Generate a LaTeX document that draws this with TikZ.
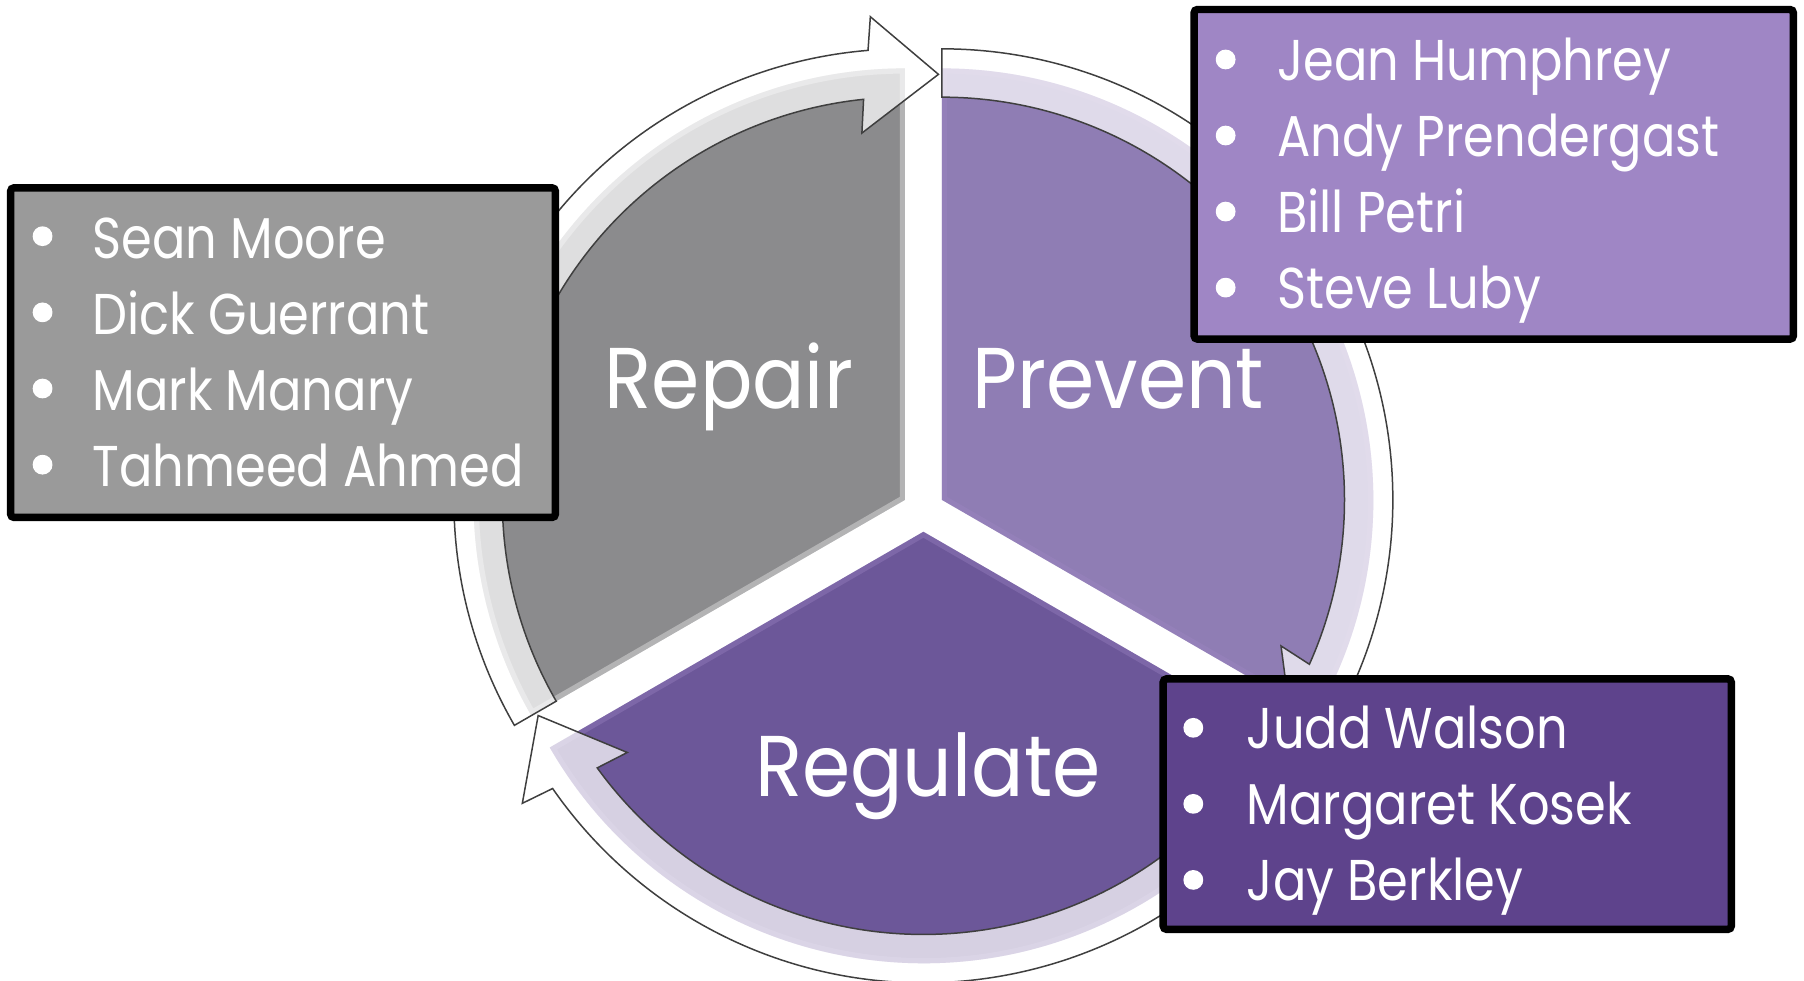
\documentclass[tikz,border=0pt]{standalone}
\usepackage{fontspec}
\newfontfamily\ff[FakeStretch=0.86]{Poppins}
\newfontfamily\ffb[FakeBold=4]{Poppins}
\newfontfamily\ffl[FakeStretch=0.9]{Poppins}
\definecolor{repairSec}{HTML}{8B8B8D}
\definecolor{repairBox}{HTML}{9A9A9A}
\definecolor{prevSec}{HTML}{8F7DB4}
\definecolor{prevBox}{HTML}{9F86C5}
\definecolor{regSec}{HTML}{6C5799}
\definecolor{regBox}{HTML}{5E438C}
\definecolor{bandLine}{HTML}{3F3F3F}
\tikzset{
  band/.style={fill=white, fill opacity=0.72, draw=bandLine, draw opacity=1, line width=1.3pt, line join=miter},
  listbox/.style={draw=black, line width=6.5pt, rounded corners=3pt, inner sep=0pt},
  nametxt/.style={anchor=base west, inner sep=0pt, text=white, font=\ff\fontsize{50}{50}\selectfont},
  bultxt/.style={anchor=base, inner sep=0pt, text=white, font=\ffb\fontsize{60}{60}\selectfont},
  bigtxt/.style={anchor=base, inner sep=0pt, text=white, font=\ffl\fontsize{75}{75}\selectfont},
}
\begin{document}
\begin{tikzpicture}[x=1pt,y=1pt]
\useasboundingbox (0,0) rectangle (1568,-852);
\fill[white] (0,0) rectangle (1568,-852);
\begin{scope}[shift={(802.6,-443.7)}]
  % sectors
  \foreach \rot/\col/\edge in {0/repairSec/white, -120/prevSec/prevBox, -240/regSec/prevBox} {
    \begin{scope}[rotate=\rot, shift={(150:18.5)}]
      \fill[\col] (0,0) -- (90:375) arc[start angle=90,end angle=210,radius=375] -- cycle;
      \begin{scope}
        \clip (0,0) -- (90:375) arc[start angle=90,end angle=210,radius=375] -- cycle;
        \draw[\edge, line width=9pt, opacity=0.35] (0,0) -- (90:375) arc[start angle=90,end angle=210,radius=375] -- cycle;
      \end{scope}
    \end{scope}
  }
  % circular arrows
  \foreach \rot in {0,-120,-240} {
    \begin{scope}[rotate=\rot, shift={(150:18.5)}]
      \path[band] (210:392) arc[start angle=210,end angle=94.7,radius=392]
        -- (94.1:421) -- (85.5:371) -- (96.7:321) -- (95.9:350)
        arc[start angle=95.9,end angle=210,radius=350] -- cycle;
    \end{scope}
  }
\end{scope}
% sector labels
\node[bigtxt] (repair) at (633.5,-355) {Repair};
\node[bigtxt] (prevent) at (972,-355) {Prevent};
\node[bigtxt] (regulate) at (806.5,-692) {Regulate};
% boxes
\node[listbox, fill=repairBox, minimum width=473.5pt, minimum height=286.5pt] (repbox) at (246,-306.5) {};
\node[listbox, fill=prevBox, minimum width=520.9pt, minimum height=286.5pt] (prevbox) at (1298.3,-151.5) {};
\node[listbox, fill=regBox, minimum width=493.75pt, minimum height=217.75pt] (regbox) at (1257.9,-698.9) {};
% Repair list
\foreach \t/\y/\n in {Sean Moore/224.5/a, Dick Guerrant/290.7/b, Mark Manary/356.9/c, Tahmeed Ahmed/423.1/d} {
  \node[bultxt] (rb\n) at (37,-\y-0.8) {\smash{•}};
  \node[nametxt] (rn\n) at (80.4,-\y) {\t};
}
% Prevent list
\foreach \t/\y/\n in {Jean Humphrey/70.1/a, Andy Prendergast/136.2/b, Bill Petri/202.3/c, Steve Luby/268.4/d} {
  \node[bultxt] (pb\n) at (1065.3,-\y-1.6) {\smash{•}};
  \node[nametxt] (pn\n) at (1110,-\y) {\t};
}
% Regulate list
\foreach \t/\y/\n in {Judd Walson/650.5/a, Margaret Kosek/716.6/b, Jay Berkley/782.7/c} {
  \node[bultxt] (gb\n) at (1037.2,-\y-2.1) {\smash{•}};
  \node[nametxt] (gn\n) at (1083.6,-\y) {\t};
}
\end{tikzpicture}
\end{document}
